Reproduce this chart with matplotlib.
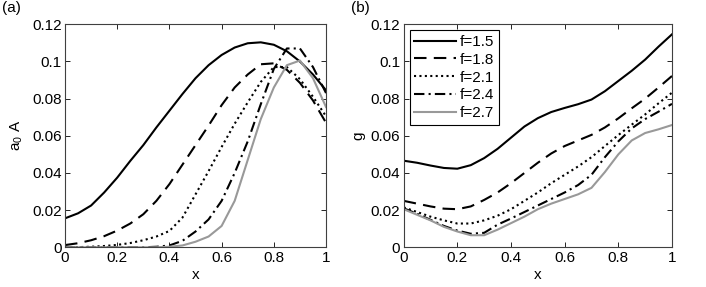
import matplotlib
matplotlib.use("Agg")
import matplotlib.pyplot as plt

plt.rcParams['font.family'] = ['Liberation Sans', 'DejaVu Sans']
plt.rcParams['mathtext.default'] = 'regular'
plt.rcParams['font.size'] = 11

x = [0, 0.05, 0.1, 0.15, 0.2, 0.25, 0.3, 0.35, 0.4, 0.45, 0.5,
     0.55, 0.6, 0.65, 0.7, 0.75, 0.8, 0.85, 0.9, 0.95, 1.0]
labels = ['f=1.5', 'f=1.8', 'f=2.1', 'f=2.4', 'f=2.7']

# panel (a): a0*A
a_f15 = [0.0156, 0.0183, 0.0225, 0.0295, 0.0375, 0.0465, 0.055, 0.0645, 0.0735, 0.0825, 0.091,
         0.098, 0.1035, 0.1075, 0.1098, 0.1103, 0.109, 0.1055, 0.1, 0.093, 0.0845]
a_f18 = [0.0012, 0.0022, 0.0038, 0.006, 0.009, 0.0128, 0.0178, 0.025, 0.034, 0.0445, 0.055,
         0.0655, 0.0765, 0.086, 0.093, 0.0985, 0.099, 0.0955, 0.0885, 0.079, 0.067]
a_f21 = [0.0, 0.0001, 0.0003, 0.0007, 0.0013, 0.0023, 0.0038, 0.0058, 0.0088, 0.016, 0.0285,
         0.041, 0.054, 0.0665, 0.078, 0.089, 0.097, 0.097, 0.0905, 0.081, 0.0705]
a_f24 = [0.0, 0.0, 0.0, 0.0, 0.0, 0.0, 0.0, 0.0003, 0.001, 0.0035, 0.0085,
         0.015, 0.025, 0.04, 0.057, 0.077, 0.096, 0.107, 0.107, 0.097, 0.083]
a_f27 = [0.0, 0.0, 0.0, 0.0, 0.0, 0.0, 0.0, 0.0, 0.0003, 0.001, 0.003,
         0.0058, 0.0115, 0.025, 0.047, 0.069, 0.086, 0.098, 0.1005, 0.091, 0.0755]

# panel (b): g
g_f15 = [0.0466, 0.0455, 0.044, 0.0427, 0.0423, 0.0442, 0.048, 0.053, 0.059, 0.065, 0.0695,
         0.0728, 0.075, 0.077, 0.0795, 0.084, 0.0895, 0.095, 0.101, 0.108, 0.1146]
g_f18 = [0.025, 0.0235, 0.022, 0.0208, 0.0205, 0.022, 0.0255, 0.0295, 0.0345, 0.04, 0.0455,
         0.0505, 0.0545, 0.0575, 0.0605, 0.0645, 0.0694, 0.0748, 0.08, 0.086, 0.0922]
g_f21 = [0.0215, 0.019, 0.0165, 0.0145, 0.0128, 0.0128, 0.0145, 0.017, 0.0205, 0.025, 0.0295,
         0.0345, 0.039, 0.0435, 0.0485, 0.0545, 0.0604, 0.066, 0.0715, 0.0775, 0.0832]
g_f24 = [0.021, 0.018, 0.0148, 0.0115, 0.009, 0.0073, 0.0078, 0.0122, 0.0155, 0.019, 0.0225,
         0.026, 0.0295, 0.0335, 0.039, 0.0485, 0.057, 0.064, 0.069, 0.073, 0.0772]
g_f27 = [0.0205, 0.0175, 0.0145, 0.011, 0.0085, 0.0065, 0.0065, 0.0095, 0.013, 0.0165, 0.0205,
         0.0235, 0.026, 0.0285, 0.032, 0.0405, 0.05, 0.0575, 0.0615, 0.0635, 0.0658]

styles = [
    dict(color='k', linestyle='-'),
    dict(color='k', linestyle=(0, (6, 3.5))),
    dict(color='k', linestyle=(0, (1, 1.6))),
    dict(color='k', linestyle=(0, (5, 2, 1, 2))),
    dict(color='0.6', linestyle='-'),
]

fig = plt.figure(figsize=(7.06, 2.87), dpi=100)
ax1 = fig.add_axes([0.0921, 0.1383, 0.3697, 0.777])
ax2 = fig.add_axes([0.5718, 0.1383, 0.380, 0.777])

for ax, data in [(ax1, [a_f15, a_f18, a_f21, a_f24, a_f27]),
                 (ax2, [g_f15, g_f18, g_f21, g_f24, g_f27])]:
    for y, lab, st in zip(data, labels, styles):
        ax.plot(x, y, label=lab, linewidth=1.5, **st)
    ax.set_xlim(0, 1)
    ax.set_ylim(0, 0.12)
    ax.set_xticks([0, 0.2, 0.4, 0.6, 0.8, 1])
    ax.set_xticklabels(['0', '0.2', '0.4', '0.6', '0.8', '1'])
    ax.set_yticks([0, 0.02, 0.04, 0.06, 0.08, 0.1, 0.12])
    ax.set_yticklabels(['0', '0.02', '0.04', '0.06', '0.08', '0.1', '0.12'])
    ax.tick_params(direction='in', top=True, right=True, length=3.5, width=0.6, pad=2.5)
    for s in ax.spines.values():
        s.set_linewidth(0.8)
        s.set_color('0.25')
    ax.set_xlabel('x', labelpad=2)

ax1.set_ylabel('a$_0$ A', labelpad=5)
ax2.set_ylabel('g', labelpad=4)

leg = ax2.legend(loc='upper left', handlelength=2.75, handletextpad=0.25,
                 borderaxespad=0.4, labelspacing=0.25, borderpad=0.3,
                 fancybox=False, framealpha=1)
leg.get_frame().set_edgecolor('k')
leg.get_frame().set_linewidth(0.8)

fig.text(0.003, 0.995, '(a)', ha='left', va='top', fontsize=11)
fig.text(0.497, 0.995, '(b)', ha='left', va='top', fontsize=11)

fig.savefig('out.png', dpi=100)
